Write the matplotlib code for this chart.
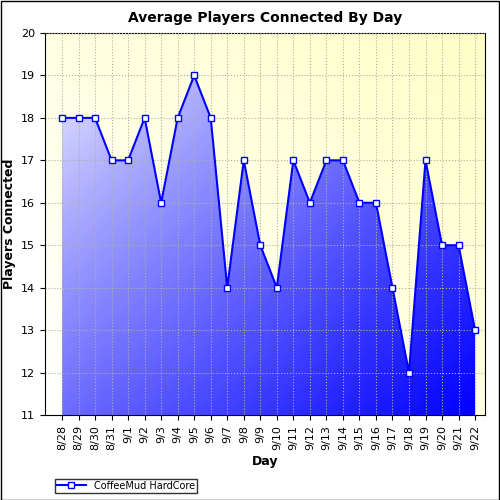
import numpy as np
import matplotlib.pyplot as plt
from matplotlib.patches import Polygon, Rectangle
from matplotlib.lines import Line2D

days = ['8/28', '8/29', '8/30', '8/31', '9/1', '9/2', '9/3', '9/4', '9/5', '9/6',
        '9/7', '9/8', '9/9', '9/10', '9/11', '9/12', '9/13', '9/14', '9/15', '9/16',
        '9/17', '9/18', '9/19', '9/20', '9/21', '9/22']
players = [18, 18, 18, 17, 17, 18, 16, 18, 19, 18,
           14, 17, 15, 14, 17, 16, 17, 17, 16, 16,
           14, 12, 17, 15, 15, 13]

fig = plt.figure(figsize=(5, 5), dpi=100)
ax = fig.add_axes([0.09, 0.17, 0.88, 0.764])
x = np.arange(len(days))
xlim = (-1.03, 25.6)
ylim = (11, 20)
ax.set_xlim(xlim)
ax.set_ylim(ylim)

# background gradient: white bottom-left to pale yellow top-right
gx, gy = np.meshgrid(np.linspace(0, 1, 200), np.linspace(0, 1, 200))
t = (gx + gy) / 2
bg = np.dstack([np.ones_like(t), np.ones_like(t), 1 - 0.22 * t])
ax.imshow(bg, extent=[*xlim, *ylim], origin='lower', aspect='auto', zorder=0)

# fill gradient: white top-left to blue bottom-right
s = np.clip((gx + (1 - gy)) / 2, 0, 1)
s = s ** 0.8
fill = np.dstack([1 - s, 1 - s, np.ones_like(s)])
im = ax.imshow(fill, extent=[x[0], x[-1], *ylim], origin='lower', aspect='auto', zorder=1)
poly = Polygon(list(zip(x, players)) + [(x[-1], 11), (x[0], 11)], closed=True,
               transform=ax.transData, facecolor='none', edgecolor='none')
ax.add_patch(poly)
im.set_clip_path(poly)

ax.grid(True, color='#b0b0a0', linestyle=':', linewidth=0.8, zorder=0.5)
ax.set_axisbelow(False)
ax.plot(x, players, color='#0000ff', linewidth=1.5, marker='s', markersize=5,
        markerfacecolor='white', markeredgecolor='#0000ff', zorder=3)

ax.set_xticks(x)
ax.set_xticklabels(days, rotation=90, fontsize=8)
ax.set_yticks(range(11, 21))
ax.tick_params(labelsize=8)
ax.set_xlabel('Day', fontsize=9, fontweight='bold')
ax.set_ylabel('Players Connected', fontsize=9, fontweight='bold')
ax.set_title('Average Players Connected By Day', fontsize=10, fontweight='bold', pad=8)

handle = Line2D([], [], color='#0000ff', marker='s', markerfacecolor='white', markersize=5)
fig.legend([handle], ['CoffeeMud HardCore'], loc='lower left', bbox_to_anchor=(0.1, 0.005),
           fontsize=7, frameon=True, fancybox=False, edgecolor='black', borderpad=0.2,
           handlelength=3)

fig.patches.append(Rectangle((0.001, 0.001), 0.997, 0.997, transform=fig.transFigure,
                             fill=False, edgecolor='black', linewidth=1))
fig.savefig('out.png', dpi=100)
